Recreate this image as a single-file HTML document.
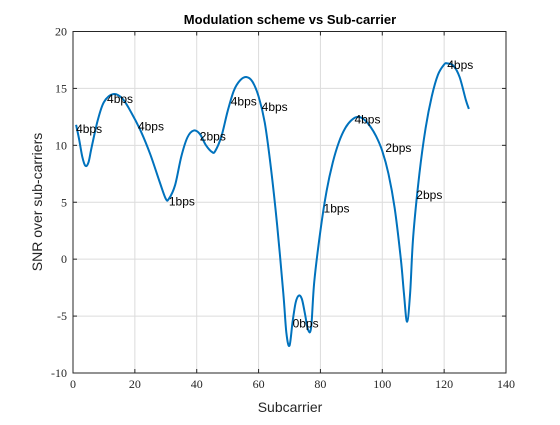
<!DOCTYPE html>
<html><head><meta charset="utf-8"><style>
body{margin:0;background:#fff}
svg text{font-family:"Liberation Sans",sans-serif}
.tk{font-family:"Liberation Serif",serif;font-size:12px;fill:#262626}
</style></head><body>
<svg id="chart" width="560" height="420" xmlns="http://www.w3.org/2000/svg">
<rect width="560" height="420" fill="#fff"/>
<g id="grid"></g>
<g id="plot"></g>
<rect x="73" y="31.5" width="433" height="341.5" fill="none" stroke="#262626" stroke-width="1"/>
<g id="ticks"></g>
<text x="290" y="24" text-anchor="middle" font-weight="bold" font-size="13" fill="#000">Modulation scheme vs Sub-carrier</text>
<text x="290" y="412" text-anchor="middle" font-size="14" fill="#262626">Subcarrier</text>
<text transform="translate(42,202) rotate(-90)" text-anchor="middle" font-size="14" fill="#262626">SNR over sub-carriers</text>
</svg>
<script>
const xs=[1,2,3,4,5,6,8,10,13,16,19,22,25,28,30,31,33,35,37,39,41,43,45,46,48,50,52,54,56,58,60,62,64,66,68,69,70,71,72,73,74,75,76,77,78,80,82,84,86,88,90,92,94,96,98,100,102,104,106,107,108,109,110,112,114,116,118,120,121,123,125,127,128];
const ys=[11.8,10.5,9,8.2,8.5,9.8,12.2,13.8,14.5,14.1,12.8,11.2,9.2,6.8,5.3,5.3,6.5,9,10.7,11.3,11,10,9.4,9.5,10.8,13,14.8,15.7,16,15.6,14.3,12,8,3,-3,-6.5,-7.6,-5.5,-3.8,-3.2,-3.5,-4.8,-6.2,-6,-2,2.5,6,8.5,10.3,11.5,12.2,12.5,12.3,11.7,10.8,9.5,7.5,4.5,0,-3,-5.5,-3,2,7.5,11.5,14.3,16.2,17.1,17.2,17,16,14,13.2];
const labelX=[1,11,21,31,41,51,61,71,81,91,101,111,121];
const labelY=[11.5,14.1,11.7,5.1,10.8,13.9,13.4,-5.6,4.5,12.3,9.8,5.7,17.1];
const labelText=["4bps","4bps","4bps","1bps","2bps","4bps","4bps","0bps","1bps","4bps","2bps","2bps","4bps"];
const xTicks=[0,20,40,60,80,100,120,140];
const yTicks=[-10,-5,0,5,10,15,20];
const NS="http://www.w3.org/2000/svg";
const L=73,R=506,T=31.5,B=373;
const sx=v=>L+(v-0)/140*(R-L), sy=v=>B-(v+10)/30*(B-T);
function mk(t,a,p){const e=document.createElementNS(NS,t);for(const k in a)e.setAttribute(k,a[k]);p.appendChild(e);return e;}
const grid=document.getElementById('grid'),ticks=document.getElementById('ticks'),plot=document.getElementById('plot');
xTicks.forEach(v=>{const x=sx(v);
 const g=mk('line',{x1:x,x2:x,y1:T,y2:B,stroke:'#dcdcdc','stroke-width':1},grid);
 
 mk('line',{x1:x,x2:x,y1:B,y2:B-4,stroke:'#262626'},ticks);mk('line',{x1:x,x2:x,y1:T,y2:T+4,stroke:'#262626'},ticks);
 const t=mk('text',{x:x,y:B+15,'text-anchor':'middle',class:'tk'},ticks);t.textContent=v;
 });
yTicks.forEach(v=>{const y=sy(v);
 const g=mk('line',{x1:L,x2:R,y1:y,y2:y,stroke:'#dcdcdc','stroke-width':1},grid);
 
 mk('line',{x1:L,x2:L+4,y1:y,y2:y,stroke:'#262626'},ticks);mk('line',{x1:R,x2:R-4,y1:y,y2:y,stroke:'#262626'},ticks);
 const t=mk('text',{x:L-6,y:y+4,'text-anchor':'end',class:'tk'},ticks);t.textContent=v;
 });
// catmull-rom smooth path
const P=xs.map((x,i)=>[sx(x),sy(ys[i])]);
let d='M'+P[0][0]+','+P[0][1];
for(let i=0;i<P.length-1;i++){const p0=P[Math.max(0,i-1)],p1=P[i],p2=P[i+1],p3=P[Math.min(P.length-1,i+2)];
 d+=' C'+(p1[0]+(p2[0]-p0[0])/6)+','+(p1[1]+(p2[1]-p0[1])/6)+' '+(p2[0]-(p3[0]-p1[0])/6)+','+(p2[1]-(p3[1]-p1[1])/6)+' '+p2[0]+','+p2[1];}
const line=mk('path',{d:d,fill:'none',stroke:'#0072BD','stroke-width':2,'stroke-linejoin':'round'},plot);


labelX.forEach((x,i)=>{const t=mk('text',{x:sx(x),y:sy(labelY[i])+4.5,'font-size':12,fill:'#000'},plot);t.textContent=labelText[i];
 
 });
</script>
</body></html>
